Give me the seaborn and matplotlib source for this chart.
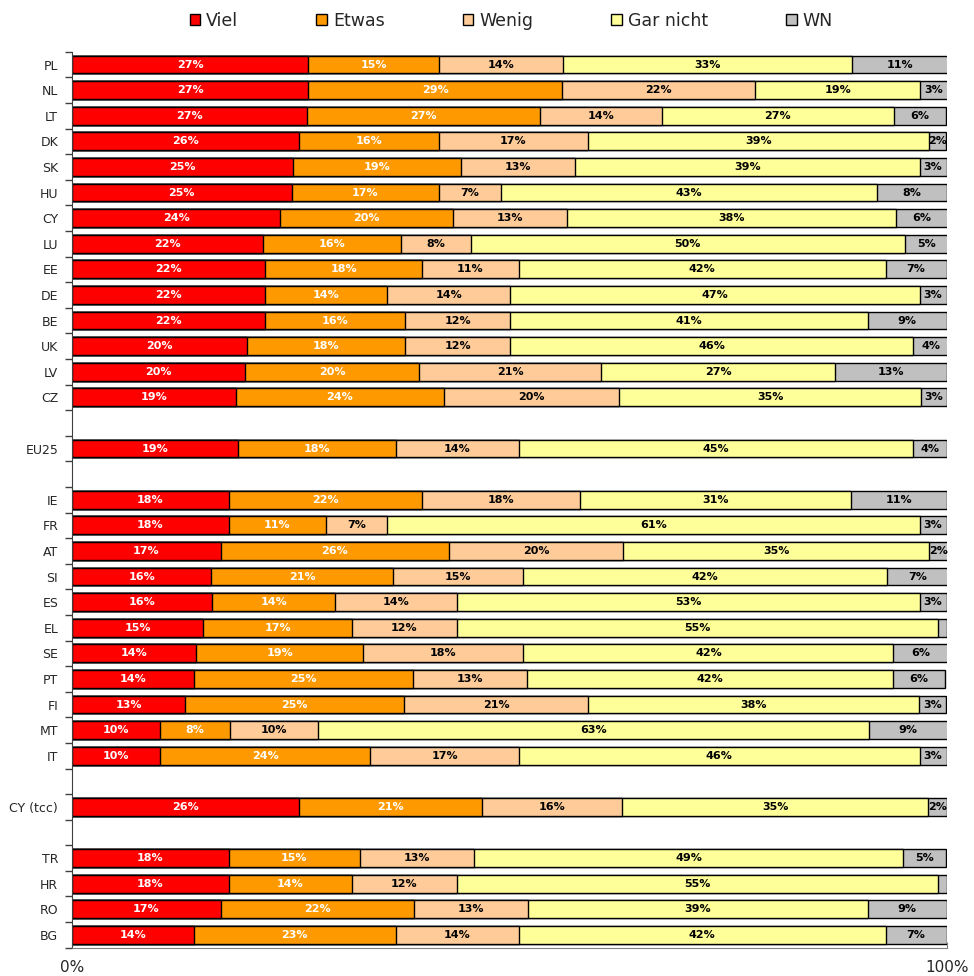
import numpy as np
import pandas as pd
import matplotlib.pyplot as plt
import matplotlib.ticker as plticker
from matplotlib.patches import Patch
import seaborn as sns

sns.set_style("white")
plt.rcParams['font.family'] = ['DejaVu Sans']

categories = ['Viel', 'Etwas', 'Wenig', 'Gar nicht', 'WN']
colors = ['#FF0000', '#FF9900', '#FFCC99', '#FFFF99', '#C0C0C0']
text_colors = ['white', 'white', 'black', 'black', 'black']

countries = ['PL', 'NL', 'LT', 'DK', 'SK', 'HU', 'CY', 'LU', 'EE', 'DE', 'BE', 'UK', 'LV', 'CZ',
             'EU25',
             'IE', 'FR', 'AT', 'SI', 'ES', 'EL', 'SE', 'PT', 'FI', 'MT', 'IT',
             'CY (tcc)',
             'TR', 'HR', 'RO', 'BG']

viel = [27.0, 27.0, 26.9, 25.9, 25.3, 25.1, 23.8, 21.8, 22.1, 22.1, 22.1, 20.0, 19.8, 18.7,
        19.0,
        17.9, 17.9, 17.0, 15.9, 16.0, 15.0, 14.2, 13.9, 12.9, 10.1, 10.1,
        25.9,
        17.9, 17.9, 17.0, 13.9]
etwas = [15.0, 29.0, 26.6, 16.0, 19.2, 16.8, 19.8, 15.8, 17.9, 13.9, 16.0, 18.1, 19.9, 23.8,
         18.0,
         22.1, 11.1, 26.1, 20.8, 14.1, 17.0, 19.1, 25.1, 25.1, 7.9, 24.0,
         21.0,
         15.0, 14.1, 22.1, 23.1]
wenig = [14.1, 22.1, 13.9, 17.1, 13.0, 7.1, 13.0, 8.0, 11.1, 14.1, 12.0, 12.0, 20.8, 20.0,
         14.1,
         18.1, 7.0, 19.9, 14.9, 13.9, 12.0, 18.3, 13.0, 21.0, 10.1, 17.0,
         16.0,
         13.1, 12.0, 13.0, 14.1]
gar_nicht = [33.1, 18.9, 26.6, 39.0, 39.4, 43.0, 37.6, 49.6, 41.9, 46.8, 40.9, 46.1, 26.7, 34.6,
             45.0,
             31.0, 60.9, 35.0, 41.6, 52.9, 55.0, 42.3, 41.9, 37.8, 63.0, 45.8,
             35.0,
             49.0, 55.0, 38.9, 41.9]
wn = [10.9, 3.1, 5.9, 1.9, 3.1, 8.0, 5.9, 4.9, 7.0, 3.1, 9.0, 3.9, 12.8, 2.9,
      3.9,
      10.9, 3.1, 2.1, 7.0, 3.1, 1.0, 6.2, 5.9, 3.1, 9.0, 3.1,
      2.1,
      4.9, 1.0, 9.0, 7.0]

# row order with empty slots between the groups
order = countries[:14] + [' '] + ['EU25'] + ['  '] + countries[15:26] + ['   '] + ['CY (tcc)'] + ['    '] + countries[27:]

df = pd.DataFrame({'country': countries, 'Viel': viel, 'Etwas': etwas, 'Wenig': wenig,
                   'Gar nicht': gar_nicht, 'WN': wn})
cum = df[categories].cumsum(axis=1)

fig, ax = plt.subplots(figsize=(9.74, 9.76), dpi=100)
fig.subplots_adjust(left=0.074, right=0.972, bottom=0.029, top=0.947)

# stacked bars: draw cumulative totals from widest to narrowest
for cat, col in reversed(list(zip(categories, colors))):
    sns.barplot(x=cum[cat], y=df['country'], order=order, orient='h', color=col,
                edgecolor='black', linewidth=1.0, width=0.7, ax=ax, saturation=1)

pos = {c: i for i, c in enumerate(order)}
for cat, tcol in zip(categories, text_colors):
    for c, v, right in zip(df['country'], df[cat], cum[cat]):
        if v < 1.5:
            continue
        ax.text(right - v / 2, pos[c], f"{round(v)}%", ha='center', va='center',
                color=tcol, fontsize=8, fontweight='bold')

ax.set_xlim(0, 100)
ax.set_ylim(len(order) - 0.5, -0.5)
ax.set_xlabel('')
ax.set_ylabel('')
ax.xaxis.set_major_locator(plticker.FixedLocator([0, 100]))
ax.set_xticklabels(['0%', '100%'], fontsize=11)
ax.tick_params(axis='x', bottom=True, length=4, direction='in', pad=9, color='#808080')
ax.tick_params(axis='y', which='major', left=False, length=0, labelsize=9, pad=10)
ax.yaxis.set_minor_locator(plticker.FixedLocator(np.arange(-0.5, len(order), 1)))
ax.tick_params(axis='y', which='minor', left=True, length=5, color='#404040', width=1)
for s in ['top', 'right']:
    ax.spines[s].set_visible(False)
ax.spines['left'].set_color('#404040')
ax.spines['bottom'].set_color('#808080')

handles = [Patch(facecolor=col, edgecolor='black', label=cat) for cat, col in zip(categories, colors)]
fig.legend(handles=handles, loc='upper center', bbox_to_anchor=(0.525, 1.004), ncol=5, frameon=False,
           fontsize=12.5, handlelength=0.6, handleheight=0.6, handletextpad=0.35, columnspacing=4.5)

plt.savefig("out.png")
